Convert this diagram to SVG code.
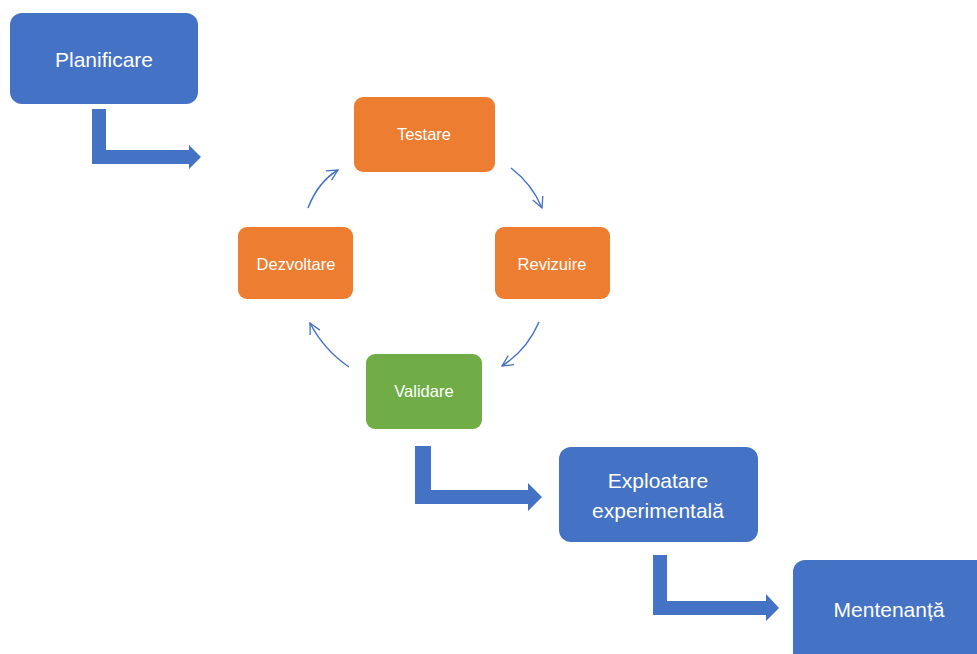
<svg xmlns="http://www.w3.org/2000/svg" width="977" height="654" viewBox="0 0 977 654">
<style>
.blue{fill:#4472C4}
.orange{fill:#ED7D31}
.green{fill:#70AD47}
.t{font-family:"Liberation Sans",Arial,sans-serif;fill:#fff;text-anchor:middle}
.big{font-size:21px}
.sm{font-size:16.5px}
.curve{fill:none;stroke:#4472C4;stroke-width:1.5;marker-end:url(#open)}
</style>
<defs>
<marker id="open" viewBox="0 0 12 12" refX="11" refY="6" markerWidth="13" markerHeight="13" markerUnits="userSpaceOnUse" orient="auto">
<path d="M1,1 L11,6 L1,11" fill="none" stroke="#4472C4" stroke-width="1.2"/>
</marker>
</defs>
<g id="connectors">
<polygon class="blue" points="92,109 106,109 106,150 189,150 189,145 201,157 189,169 189,164 92,164"/>
<polygon class="blue" points="415,446 431,446 431,490 528,490 528,483 542,497 528,511 528,504 415,504"/>
<polygon class="blue" points="653,555 667,555 667,601 766,601 766,594 779,608 766,621 766,615 653,615"/>
<path class="curve" d="M308,208 Q318,182 338,170"/>
<path class="curve" d="M511,168 Q532,184 542,208"/>
<path class="curve" d="M539,322 Q527,350 502,366"/>
<path class="curve" d="M349,367 Q324,350 310,323"/>
</g>
<g id="planificare">
<rect class="blue" x="10" y="13" width="188" height="91" rx="12"/>
<text class="t big" x="104" y="67">Planificare</text>
</g>
<g id="testare">
<rect class="orange" x="354" y="97" width="141" height="75" rx="9"/>
<text class="t sm" x="424" y="140">Testare</text>
</g>
<g id="dezvoltare">
<rect class="orange" x="238" y="227" width="115" height="72" rx="9"/>
<text class="t sm" x="296" y="270">Dezvoltare</text>
</g>
<g id="revizuire">
<rect class="orange" x="495" y="227" width="115" height="72" rx="9"/>
<text class="t sm" x="552" y="270">Revizuire</text>
</g>
<g id="validare">
<rect class="green" x="366" y="354" width="116" height="75" rx="9"/>
<text class="t sm" x="424" y="397">Validare</text>
</g>
<g id="exploatare">
<rect class="blue" x="559" y="447" width="199" height="95" rx="12"/>
<text class="t big" x="658" y="488">Exploatare</text>
<text class="t big" x="658" y="518">experimentală</text>
</g>
<g id="mentenanta">
<rect class="blue" x="793" y="560" width="200" height="110" rx="12"/>
<text class="t big" x="889" y="617">Mentenanță</text>
</g>
</svg>
